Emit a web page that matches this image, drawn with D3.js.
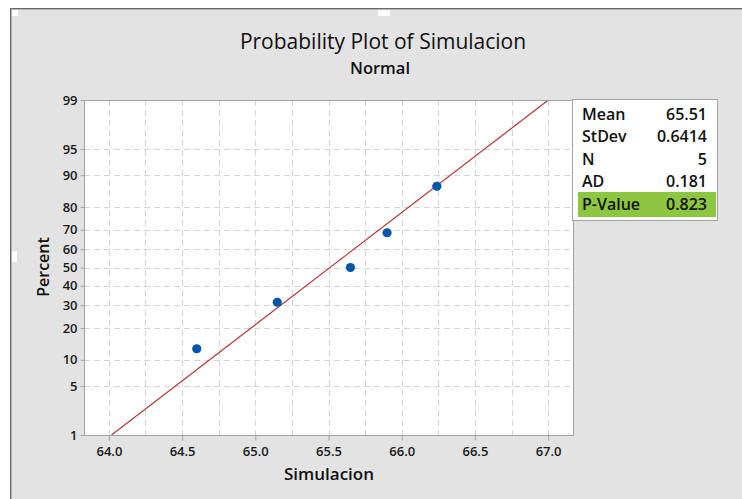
<!DOCTYPE html>
<html>
<head>
<meta charset="utf-8">
<script src="https://cdn.jsdelivr.net/npm/d3@7"></script>
<style>
  html, body { margin: 0; padding: 0; background: #ffffff; }
  svg { display: block; }
  text { font-family: "Open Sans", "Noto Sans", sans-serif; }
</style>
</head>
<body>
<svg id="chart" width="742" height="499"></svg>
<script>
// Observations (Simulacion) and their plotted cumulative percents
const simulacion = [64.60, 65.15, 65.65, 65.90, 66.24];
const percents = [12.96, 31.48, 50.0, 68.52, 87.04];

// Summary statistics shown in the table
const statLabels = ["Mean", "StDev", "N", "AD", "P-Value"];
const statValues = ["65.51", "0.6414", "5", "0.181", "0.823"];
const fitMean = 65.51;
const fitStDev = 0.6414;

// Axis ticks
const xTickLabels = [64.0, 64.5, 65.0, 65.5, 66.0, 66.5, 67.0];
const xGridValues = [64.0, 64.25, 64.5, 64.75, 65.0, 65.25, 65.5, 65.75, 66.0, 66.25, 66.5, 66.75, 67.0];
const yTickLabels = [1, 5, 10, 20, 30, 40, 50, 60, 70, 80, 90, 95, 99];

// Inverse standard normal CDF (Acklam's rational approximation)
function probit(p) {
  const a = [-3.969683028665376e+01, 2.209460984245205e+02, -2.759285104469687e+02,
             1.383577518672690e+02, -3.066479806614716e+01, 2.506628277459239e+00];
  const b = [-5.447609879822406e+01, 1.615858368580409e+02, -1.556989798598866e+02,
             6.680131188771972e+01, -1.328068155288572e+01];
  const c = [-7.784894002430293e-03, -3.223964580411365e-01, -2.400758277161838e+00,
             -2.549732539343734e+00, 4.374664141464968e+00, 2.938163982698783e+00];
  const d = [7.784695709041462e-03, 3.224671290700398e-01, 2.445134137142996e+00,
             3.754408661907416e+00];
  const pl = 0.02425, ph = 1 - pl;
  let q, r;
  if (p < pl) {
    q = Math.sqrt(-2 * Math.log(p));
    return (((((c[0]*q+c[1])*q+c[2])*q+c[3])*q+c[4])*q+c[5]) /
           ((((d[0]*q+d[1])*q+d[2])*q+d[3])*q+1);
  }
  if (p <= ph) {
    q = p - 0.5; r = q * q;
    return (((((a[0]*r+a[1])*r+a[2])*r+a[3])*r+a[4])*r+a[5])*q /
           (((((b[0]*r+b[1])*r+b[2])*r+b[3])*r+b[4])*r+1);
  }
  q = Math.sqrt(-2 * Math.log(1 - p));
  return -(((((c[0]*q+c[1])*q+c[2])*q+c[3])*q+c[4])*q+c[5]) /
          ((((d[0]*q+d[1])*q+d[2])*q+d[3])*q+1);
}

const svg = d3.select("#chart");
const W = 742, H = 499;
const ink = "#111111";

// Window frame and grey canvas
svg.append("rect").attr("x", 10).attr("y", 8).attr("width", W - 10).attr("height", H - 8).attr("fill", "#e3e3e3");
svg.append("rect").attr("x", 10).attr("y", 8).attr("width", W - 10).attr("height", 1).attr("fill", "#6b6b6b");
svg.append("rect").attr("x", 11).attr("y", 9).attr("width", W - 11).attr("height", 1).attr("fill", "#b3b3b3");
svg.append("rect").attr("x", 10).attr("y", 8).attr("width", 1).attr("height", H - 8).attr("fill", "#6b6b6b");
svg.append("rect").attr("x", 11).attr("y", 9).attr("width", 1).attr("height", H - 9).attr("fill", "#b3b3b3");
// selection handles
[[12, 10, 6, 6], [378, 10, 12, 6], [12, 251, 5, 11]].forEach(h => {
  svg.append("rect").attr("x", h[0]).attr("y", h[1]).attr("width", h[2]).attr("height", h[3]).attr("fill", "#ffffff");
});

// Plot region
const plot = { left: 84, right: 573, top: 100, bottom: 435 };
const x = d3.scaleLinear().domain([63.83, 67.17]).range([plot.left, plot.right]);
const z = d3.scaleLinear().domain([probit(0.01), probit(0.99)]).range([plot.bottom, plot.top]);
const yPct = p => z(probit(p / 100));

svg.append("rect").attr("x", plot.left).attr("y", plot.top)
  .attr("width", plot.right - plot.left).attr("height", plot.bottom - plot.top)
  .attr("fill", "#ffffff");

// Grid lines
const grid = svg.append("g").attr("stroke", "#d4d4d4").attr("stroke-width", 1).attr("stroke-dasharray", "6,4");
grid.selectAll("line.v").data(xGridValues).join("line").attr("class", "v")
  .attr("x1", d => Math.round(x(d)) + 0.5).attr("x2", d => Math.round(x(d)) + 0.5)
  .attr("y1", plot.top).attr("y2", plot.bottom);
grid.selectAll("line.h").data(yTickLabels.filter(d => d !== 1 && d !== 99)).join("line").attr("class", "h")
  .attr("x1", plot.left).attr("x2", plot.right)
  .attr("y1", d => Math.round(yPct(d)) + 0.5).attr("y2", d => Math.round(yPct(d)) + 0.5);

// Fitted normal line
const fitPcts = [1, 99];
svg.append("line")
  .attr("x1", x(fitMean + fitStDev * probit(fitPcts[0] / 100)))
  .attr("y1", yPct(fitPcts[0]))
  .attr("x2", x(fitMean + fitStDev * probit(fitPcts[1] / 100)))
  .attr("y2", yPct(fitPcts[1]))
  .attr("stroke", "#b03030").attr("stroke-width", 1.1);

// Data points
svg.selectAll("circle.pt").data(simulacion).join("circle").attr("class", "pt")
  .attr("cx", d => x(d)).attr("cy", (d, i) => yPct(percents[i]))
  .attr("r", 4.6).attr("fill", "#0056a8");

// Frame
svg.append("rect").attr("x", plot.left + 0.5).attr("y", plot.top + 0.5)
  .attr("width", plot.right - plot.left).attr("height", plot.bottom - plot.top)
  .attr("fill", "none").attr("stroke", "#a3a3a3").attr("stroke-width", 1);

// Axes
const xAxis = d3.axisBottom(x).tickValues(xTickLabels).tickSize(5).tickPadding(4).tickFormat(d3.format(".1f"));
const gx = svg.append("g").attr("transform", `translate(0,${plot.bottom + 0.5})`).call(xAxis);
gx.select(".domain").remove();
gx.selectAll(".tick line").attr("stroke", "#a3a3a3");
gx.selectAll(".tick text").attr("fill", "#1a1a1a").attr("font-size", 13).attr("font-weight", 600)
  .attr("font-family", "'Open Sans', sans-serif").attr("dy", "0.9em");

const yAxis = d3.axisLeft(z).tickValues(yTickLabels.map(p => probit(p / 100))).tickSize(4).tickPadding(3)
  .tickFormat((d, i) => yTickLabels[i]);
const gy = svg.append("g").attr("transform", `translate(${plot.left + 0.5},0)`).call(yAxis);
gy.select(".domain").remove();
gy.selectAll(".tick line").attr("stroke", "#a3a3a3");
gy.selectAll(".tick text").attr("fill", "#1a1a1a").attr("font-size", 13).attr("font-weight", 600)
  .attr("font-family", "'Open Sans', sans-serif");

// Titles
svg.append("text").attr("x", 383).attr("y", 49).attr("text-anchor", "middle")
  .attr("font-size", 21).attr("fill", ink).text("Probability Plot of Simulacion");
svg.append("text").attr("x", 380).attr("y", 74).attr("text-anchor", "middle")
  .attr("font-size", 16.5).attr("font-weight", 600).attr("fill", ink).text("Normal");
svg.append("text").attr("x", 329).attr("y", 480).attr("text-anchor", "middle")
  .attr("font-size", 17).attr("font-weight", 600).attr("fill", ink).text("Simulacion");
svg.append("text").attr("transform", "translate(49,267) rotate(-90)").attr("text-anchor", "middle")
  .attr("font-size", 16).attr("font-weight", 600).attr("fill", ink).text("Percent");

// Statistics table
const tbl = svg.append("g");
tbl.append("rect").attr("x", 572.5).attr("y", 99.5).attr("width", 145).attr("height", 121)
  .attr("fill", "#ffffff").attr("stroke", "#a3a3a3");
tbl.append("rect").attr("x", 578).attr("y", 192).attr("width", 138).attr("height", 25).attr("fill", "#8dc63f");
statLabels.forEach((lab, i) => {
  const yy = 119.5 + 22.6 * i;
  tbl.append("text").attr("x", 582).attr("y", yy).attr("font-size", 16).attr("font-weight", 600)
    .attr("fill", ink).text(lab);
  tbl.append("text").attr("x", 707).attr("y", yy).attr("text-anchor", "end").attr("font-size", 16)
    .attr("font-weight", 600).attr("fill", ink).text(statValues[i]);
});
</script>
</body>
</html>
